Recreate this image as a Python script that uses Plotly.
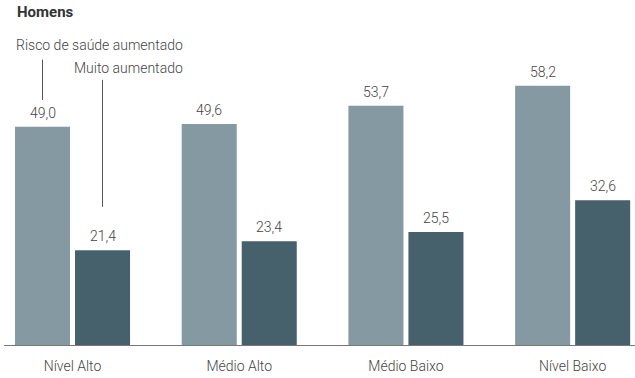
import plotly.graph_objects as go

categories = ["Nível Alto", "Médio Alto", "Médio Baixo", "Nível Baixo"]
risco_aumentado = [49.0, 49.6, 53.7, 58.2]
muito_aumentado = [21.4, 23.4, 25.5, 32.6]
series_names = ["Risco de saúde aumentado", "Muito aumentado"]
title_text = "Homens"

LIGHT = "#8599a3"
DARK = "#46606c"
TXT = "#444444"
FONT = "Roboto"

BARGAP = 0.28
GROUPGAP = 0.083
PLOT_W = 631
XR = [-0.411, 3.374]

def fmt(v):
    return f"{v:.1f}".replace(".", ",")

fig = go.Figure()
for name, vals, col in [(series_names[0], risco_aumentado, LIGHT),
                        (series_names[1], muito_aumentado, DARK)]:
    fig.add_trace(go.Bar(
        x=categories, y=vals, name=name, marker_color=col, marker_line_width=0,
        showlegend=False, hoverinfo="x+y",
    ))

# value labels
px_per_cat = PLOT_W / (XR[1] - XR[0])
half_pitch = px_per_cat * (1 - BARGAP) / 4
for sign, vals in [(-1, risco_aumentado), (1, muito_aumentado)]:
    for c, v in zip(categories, vals):
        fig.add_annotation(x=c, y=v, xref="x", yref="y", text=fmt(v),
                           xshift=sign * half_pitch, yshift=4,
                           xanchor="center", yanchor="bottom", showarrow=False,
                           font=dict(family=FONT, size=14, color=TXT, weight=300))

fig.update_layout(
    width=635, height=378,
    margin=dict(l=4, r=0, t=40, b=32),
    paper_bgcolor="white", plot_bgcolor="white",
    barmode="group", bargap=BARGAP, bargroupgap=GROUPGAP,
    font=dict(family=FONT, size=14, color=TXT, weight=300),
)
fig.update_xaxes(
    range=XR, showgrid=False, zeroline=False,
    showline=False, ticks="outside", ticklen=7, tickcolor="rgba(0,0,0,0)",
    tickfont=dict(family=FONT, size=14, color=TXT, weight=300),
)
fig.update_yaxes(range=[0, 68.4], visible=False, showgrid=False, zeroline=False)

# baseline
fig.add_shape(type="line", xref="paper", yref="y", x0=0, x1=1, y0=0, y1=0,
              line=dict(color="#777777", width=2))

# legend annotations with leader lines
fig.add_annotation(xref="paper", yref="paper", x=0.2868, y=0.9837,
                   xanchor="right", yanchor="middle", showarrow=False,
                   text=series_names[0], font=dict(family=FONT, size=14, color=TXT, weight=300))
fig.add_annotation(xref="paper", yref="paper", x=0.2868, y=0.9085,
                   xanchor="right", yanchor="middle", showarrow=False,
                   text=series_names[1], font=dict(family=FONT, size=14, color=TXT, weight=300))
fig.add_shape(type="line", xref="x", yref="y", x0=-0.18, x1=-0.18, y0=64.0, y1=55.0,
              line=dict(color="#555555", width=1))
fig.add_shape(type="line", xref="x", yref="y", x0=0.18, x1=0.18, y0=59.5, y1=31.1,
              line=dict(color="#555555", width=1))

fig.add_annotation(xref="paper", yref="paper", x=0.0174, y=1.0915,
                   xanchor="left", yanchor="middle", showarrow=False,
                   text="<b>" + title_text + "</b>",
                   font=dict(family=FONT, size=15, color="#333333"))

fig.write_html("out.html")
